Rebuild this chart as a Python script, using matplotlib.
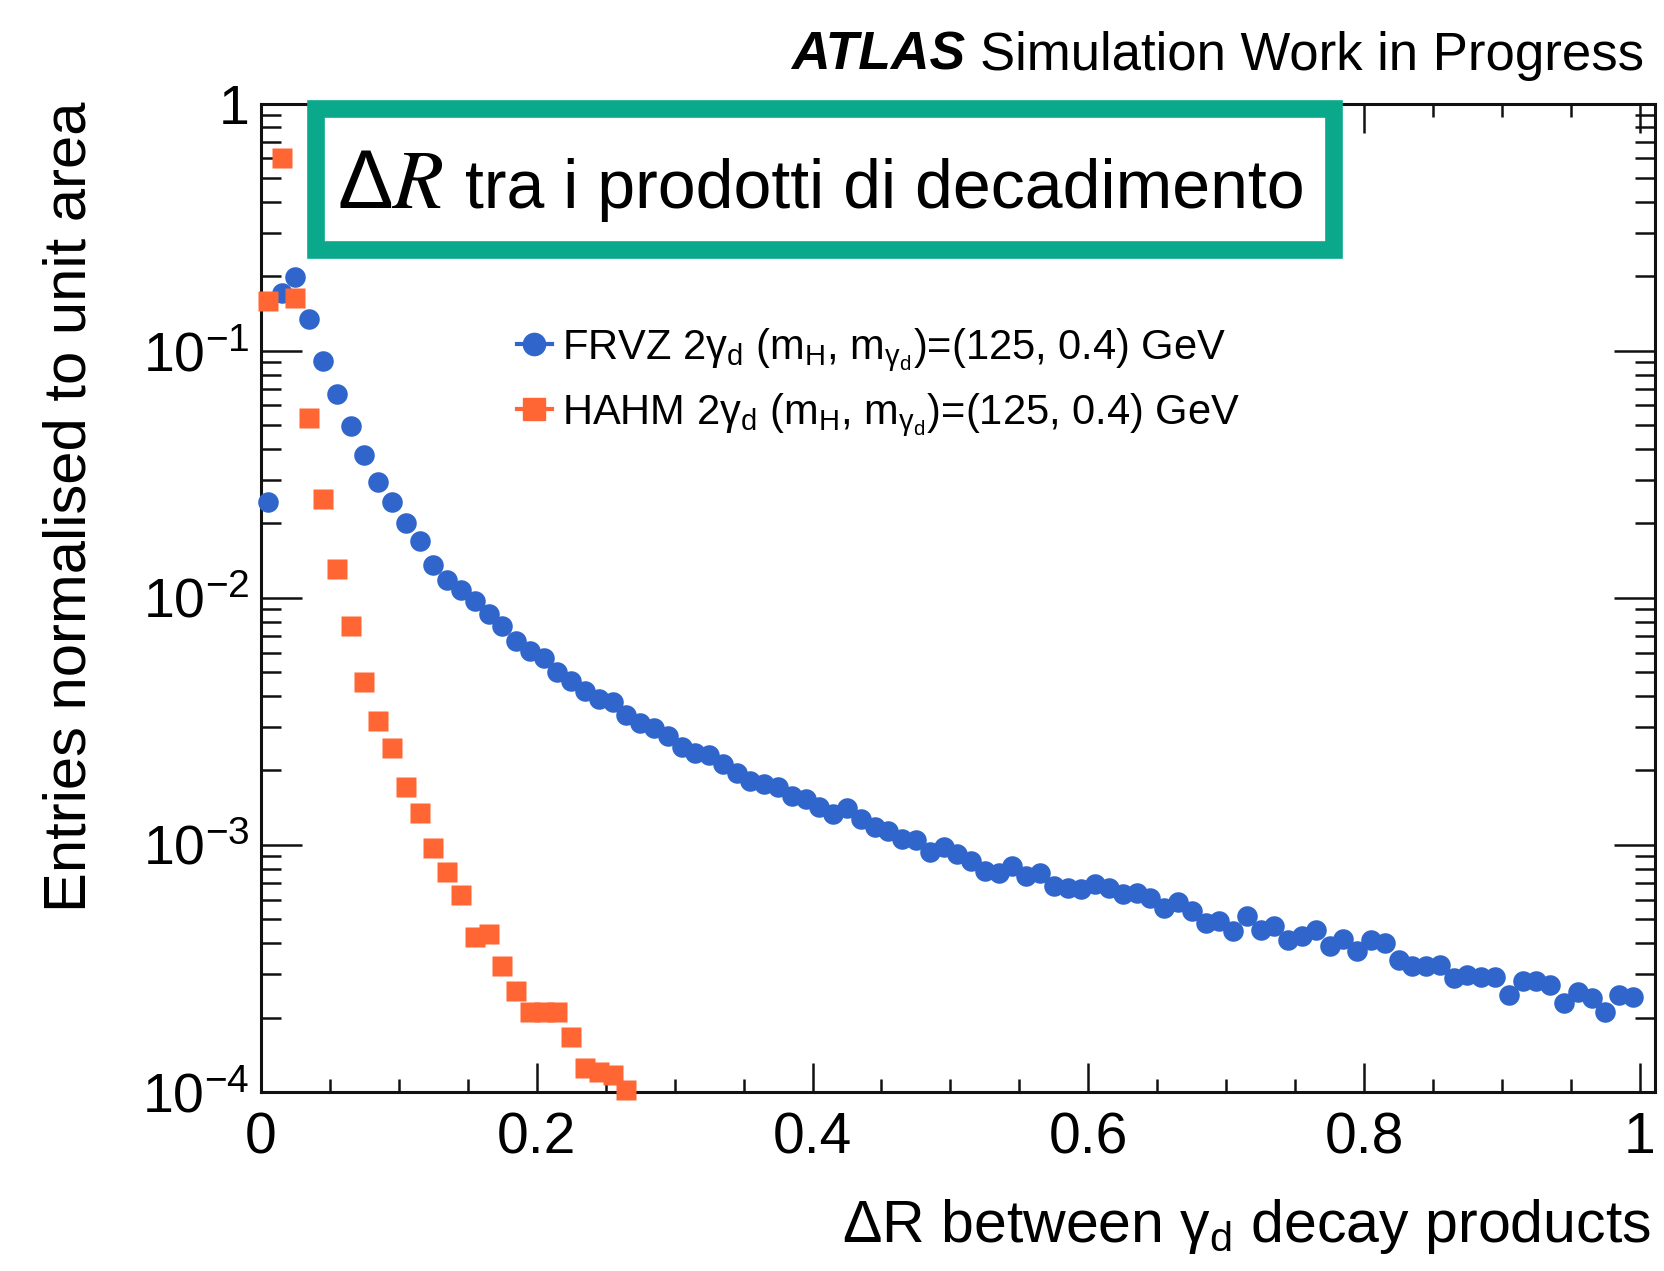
import matplotlib
matplotlib.use("Agg")
import matplotlib.pyplot as plt
import numpy as np
from matplotlib.lines import Line2D
from matplotlib.patches import Rectangle
from matplotlib.ticker import FixedLocator, MultipleLocator, LogLocator, NullFormatter

plt.rcParams.update({
    "font.family": ["Liberation Sans", "DejaVu Sans"],
    "mathtext.fontset": "custom",
    "mathtext.rm": "Liberation Sans",
    "mathtext.it": "Liberation Sans:italic",
    "mathtext.bf": "Liberation Sans:bold",
    "mathtext.default": "regular",
})

# ---- data: normalised entries per 0.01-wide Delta R bin ----
bin_edges = np.linspace(0.0, 1.0, 101)

frvz = [
    0.0245, 0.171, 0.198, 0.1346, 0.0908, 0.0668, 0.0494, 0.0379, 0.0295, 0.0243,
    0.0200, 0.0169, 0.0136, 0.0118, 0.0107, 0.0097, 0.0086, 0.0077, 0.0067, 0.0061,
    0.0057, 0.0050, 0.0046, 0.0042, 0.0039, 0.0038, 0.00334, 0.0031, 0.00297, 0.00277,
    0.0025, 0.00236, 0.00232, 0.00212, 0.00196, 0.00182, 0.00177, 0.00171, 0.00158, 0.00153,
    0.00142, 0.00133, 0.00141, 0.00127, 0.00118, 0.00114, 0.00106, 0.00105, 0.00094, 0.00098,
    0.000917, 0.000861, 0.000783, 0.000772, 0.000822, 0.000748, 0.000772, 0.00068, 0.000671, 0.000661,
    0.000692, 0.000671, 0.00063, 0.00064, 0.00061, 0.000556, 0.000587, 0.00054, 0.000484, 0.000491,
    0.000447, 0.000514, 0.000454, 0.000469, 0.000414, 0.000427, 0.000454, 0.000388, 0.000416, 0.000371,
    0.000414, 0.000401, 0.000343, 0.000325, 0.000324, 0.000327, 0.000289, 0.000298, 0.000293, 0.000293,
    0.000247, 0.00028, 0.00028, 0.000272, 0.000229, 0.000255, 0.00024, 0.000211, 0.000247, 0.000243,
]

hahm = [
    0.159, 0.60, 0.163, 0.0534, 0.0252, 0.0131, 0.0077, 0.00457, 0.00316, 0.00247,
    0.00171, 0.00135, 0.00097, 0.00078, 0.000626, 0.000425, 0.000437, 0.000325, 0.000257, 0.00021,
    0.00021, 0.00021, 0.000167, 0.000125, 0.000121, 0.000117, 0.000102,
]

series_labels = [
    r"FRVZ 2γ$_{d}$ (m$_{H}$, m$_{γ_{d}}$)=(125, 0.4) GeV",
    r"HAHM 2γ$_{d}$ (m$_{H}$, m$_{γ_{d}}$)=(125, 0.4) GeV",
]

x_ticks = [0.0, 0.2, 0.4, 0.6, 0.8, 1.0]
x_tick_labels = ["0", "0.2", "0.4", "0.6", "0.8", "1"]
y_ticks = [1e-4, 1e-3, 1e-2, 1e-1, 1.0]
y_tick_labels = [r"$10^{-4}$", r"$10^{-3}$", r"$10^{-2}$", r"$10^{-1}$", "1"]

BLUE = "#3066CC"
ORANGE = "#FF6633"
TEAL = "#0BA98C"

centres = 0.5 * (bin_edges[:-1] + bin_edges[1:])

W, H = 1665, 1271
fig = plt.figure(figsize=(W / 100, H / 100), dpi=100)
ax = fig.add_axes([261 / W, 1 - 1092 / H, (1655 - 261) / W, (1092 - 103.5) / H])

ax.plot(centres[:len(frvz)], frvz, "o", color=BLUE, ms=14.8, mec="none",
        clip_on=False, zorder=3)
ax.plot(centres[:len(hahm)], hahm, "s", color=ORANGE, ms=15.0, mec="none",
        clip_on=False, zorder=4)

ax.set_yscale("log")
ax.set_ylim(1e-4, 1.0)
ax.set_xlim(0.0, 1.011)

ax.xaxis.set_major_locator(FixedLocator(x_ticks))
ax.set_xticklabels(x_tick_labels)
ax.xaxis.set_minor_locator(MultipleLocator(0.05))
ax.yaxis.set_major_locator(FixedLocator(y_ticks))
ax.set_yticklabels(y_tick_labels)
ax.yaxis.set_minor_locator(LogLocator(base=10, subs=np.arange(2, 10)))
ax.yaxis.set_minor_formatter(NullFormatter())

ax.tick_params(which="both", direction="in", top=True, right=True, color="#111111")
ax.tick_params(axis="x", which="major", length=21, width=1.8, labelsize=41, pad=14)
ax.tick_params(axis="x", which="minor", length=9.5, width=1.8)
ax.tick_params(axis="y", which="major", length=29.5, width=1.8, labelsize=40, pad=8)
ax.tick_params(axis="y", which="minor", length=14.5, width=1.8)
for sp in ax.spines.values():
    sp.set_linewidth(2.2)
    sp.set_color("#111111")

# legend
handles = [
    Line2D([], [], color=BLUE, marker="o", ms=16, lw=3),
    Line2D([], [], color=ORANGE, marker="s", ms=16, lw=3),
]
ax.legend(handles, series_labels, loc="upper left",
          bbox_to_anchor=(517 / W, 1 - 326 / H), bbox_transform=fig.transFigure,
          frameon=False, fontsize=30, numpoints=1, handlelength=0.83,
          handletextpad=0.26, labelspacing=0.42, borderpad=0, borderaxespad=0)

# highlighted title box
lw_box = 12.7
ax.add_patch(Rectangle((315.8 / W, 1 - 250.2 / H), (1334.2 - 315.8) / W,
                       (250.2 - 108.8) / H, transform=fig.transFigure,
                       facecolor="white", edgecolor=TEAL, lw=lw_box,
                       clip_on=False, zorder=10))
box_y = 1 - 208 / H
ax.text(337 / W, box_y, r"$\Delta\mathit{R}$", transform=fig.transFigure,
        ha="left", va="baseline", fontsize=60, math_fontfamily="stix", zorder=11)
ax.text(465 / W, box_y, "tra i prodotti di decadimento", transform=fig.transFigure,
        ha="left", va="baseline", fontsize=49, zorder=11)

# experiment label
ty = 1 - 70 / H
t_rest = fig.text(1644 / W, ty, "Simulation Work in Progress", ha="right",
                  va="baseline", fontsize=38)
renderer = fig.canvas.get_renderer()
bb = t_rest.get_window_extent(renderer)
fig.text((bb.x0 - 15) / W, ty, "ATLAS", ha="right", va="baseline",
         fontsize=38.5, fontweight="bold", fontstyle="italic")

# axis titles
fig.text(1651 / W, 1 - 1242 / H, r"ΔR between γ$_{d}$ decay products",
         ha="right", va="baseline", fontsize=42.5)
fig.text(70 / W, 1 - 101 / H, "Entries normalised to unit area", rotation=90,
         ha="center", va="top", fontsize=43)

fig.savefig("out.png", dpi=100)
